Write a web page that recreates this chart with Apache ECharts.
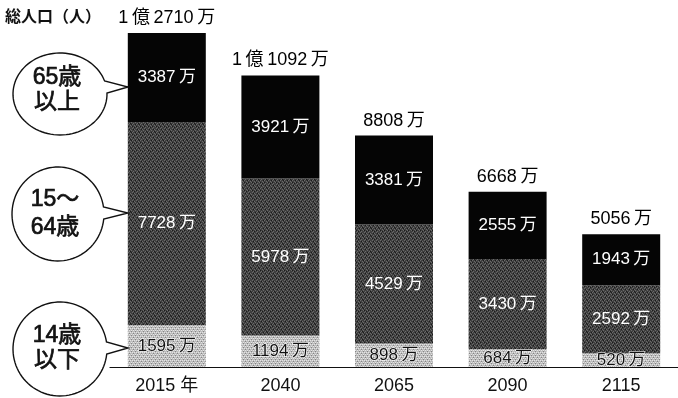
<!DOCTYPE html>
<html>
<head>
<meta charset="utf-8">
<script src="https://cdn.jsdelivr.net/npm/echarts@6/dist/echarts.min.js"></script>
<style>
  html, body { margin: 0; padding: 0; background: #fff; }
  #chart { width: 678px; height: 398px; }
</style>
</head>
<body>
<div id="chart"></div>
<script>
// Population by age group (unit: 万人)
const years = ['2015 年', '2040', '2065', '2090', '2115'];
const under14 = [1595, 1194, 898, 684, 520];
const age15to64 = [7728, 5978, 4529, 3430, 2592];
const over65 = [3387, 3921, 3381, 2555, 1943];
const totals = [12710, 11092, 8808, 6668, 5056];
const totalLabels = ['1\u2009億\u20092710\u2009万', '1\u2009億\u20091092\u2009万', '8808\u2009万', '6668\u2009万', '5056\u2009万'];

const FONT = '"Liberation Sans", "Noto Sans CJK JP", sans-serif';

// Halftone-style fills drawn into small repeating canvases
function makePattern(base, dotsA, dotsB, colA, colB) {
  const c = document.createElement('canvas');
  c.width = 8; c.height = 8;
  const g = c.getContext('2d');
  g.fillStyle = base; g.fillRect(0, 0, 8, 8);
  g.fillStyle = colA;
  dotsA.forEach(p => g.fillRect(p[0], p[1], 1, 1));
  g.fillStyle = colB;
  dotsB.forEach(p => g.fillRect(p[0], p[1], 1, 1));
  return c;
}
const darkTex = makePattern('#3e3e3e',
  [[0,0],[2,1],[4,0],[6,1],[1,3],[3,2],[5,3],[7,2],[0,4],[2,5],[4,4],[6,5],[1,7],[3,6],[5,7],[7,6]],
  [[1,1],[5,1],[3,4],[7,4],[0,6],[4,6],[2,3],[6,7]],
  '#6a6a6a', '#1a1a1a');
const lightTex = makePattern('#bcbcbc',
  [[0,0],[2,0],[4,0],[6,0],[1,2],[3,2],[5,2],[7,2],[0,4],[2,4],[4,4],[6,4],[1,6],[3,6],[5,6],[7,6]],
  [[1,1],[5,1],[3,3],[7,3],[1,5],[5,5],[3,7],[7,7]],
  '#e4e4e4', '#858585');

const chart = echarts.init(document.getElementById('chart'), null, { renderer: 'canvas' });

const fmtMan = p => p.value + '\u2009万';

// Speech bubble outline: an ellipse with a pointer toward the first bar
function bubblePoints(cx, cy, rx, ry, tipX, tipY) {
  const tU = Math.asin(Math.max(-1, Math.min(1, (tipY - 6 - cy) / ry)));
  const tL = Math.asin(Math.max(-1, Math.min(1, (tipY + 6 - cy) / ry)));
  const pts = [];
  const end = tU + Math.PI * 2;
  const n = 90;
  for (let i = 0; i <= n; i++) {
    const t = tL + (end - tL) * i / n;
    pts.push([cx + rx * Math.cos(t), cy + ry * Math.sin(t)]);
  }
  pts.push([tipX, tipY]);
  return pts;
}

const bubbles = [
  { cx: 60, cy: 94, rx: 47, ry: 41, tipY: 87, lines: ['65歳', '以上'], ly: [78, 103] },
  { cx: 58, cy: 214, rx: 46, ry: 47, tipY: 213, lines: ['15～', '64歳'], ly: [200, 228] },
  { cx: 60, cy: 349, rx: 47, ry: 47, tipY: 348, lines: ['14歳', '以下'], ly: [336, 361] }
];

const graphics = [{
  type: 'text', left: 5, top: 8, z: 10,
  style: { text: '総人口（人）', font: 'bold 16px "Noto Sans CJK JP", sans-serif', fill: '#111' }
}];
bubbles.forEach(b => {
  graphics.push({
    type: 'polygon', z: 10,
    shape: { points: bubblePoints(b.cx, b.cy, b.rx, b.ry, 128, b.tipY) },
    style: { fill: '#fff', stroke: '#111', lineWidth: 1.4 }
  });
  b.lines.forEach((t, i) => {
    graphics.push({
      type: 'text', z: 11, x: b.cx - 3, y: b.ly[i],
      style: {
        text: t, font: '23px ' + FONT, fill: '#111', align: 'center', verticalAlign: 'middle',
        stroke: '#111', lineWidth: 0.7
      }
    });
  });
});

chart.setOption({
  animation: false,
  backgroundColor: '#fff',
  grid: { left: 110, width: 571, top: 33, bottom: 31, containLabel: false },
  xAxis: {
    type: 'category',
    data: years,
    axisLine: { lineStyle: { color: '#111', width: 1.2 } },
    axisTick: { inside: true, length: 8, lineStyle: { color: '#555' } },
    axisLabel: { color: '#111', fontSize: 18, fontFamily: FONT, margin: 10 }
  },
  yAxis: { type: 'value', min: 0, max: 12710, show: false, splitLine: { show: false } },
  graphic: graphics,
  series: [
    {
      name: '14歳以下', type: 'bar', stack: 'pop', barWidth: 78,
      data: under14,
      itemStyle: { color: { image: lightTex, repeat: 'repeat' } },
      label: {
        show: true, position: 'inside', formatter: fmtMan,
        color: '#111', fontSize: 17, fontFamily: FONT,
        textBorderColor: '#fff', textBorderWidth: 1.2
      }
    },
    {
      name: '15～64歳', type: 'bar', stack: 'pop', barWidth: 78,
      data: age15to64,
      itemStyle: { color: { image: darkTex, repeat: 'repeat' } },
      label: {
        show: true, position: 'inside', formatter: fmtMan,
        color: '#fff', fontSize: 17, fontFamily: FONT
      }
    },
    {
      name: '65歳以上', type: 'bar', stack: 'pop', barWidth: 78,
      data: over65,
      itemStyle: { color: '#050505' },
      label: {
        show: true, position: 'inside', formatter: fmtMan,
        color: '#fff', fontSize: 17, fontFamily: FONT
      }
    },
    {
      name: '総人口', type: 'scatter', symbolSize: 0, z: 5,
      data: totals,
      itemStyle: { opacity: 1 },
      label: {
        show: true, position: 'top', distance: 6,
        formatter: p => totalLabels[p.dataIndex],
        color: '#000', opacity: 1, fontSize: 18, fontFamily: FONT
      }
    }
  ]
});
</script>
</body>
</html>
